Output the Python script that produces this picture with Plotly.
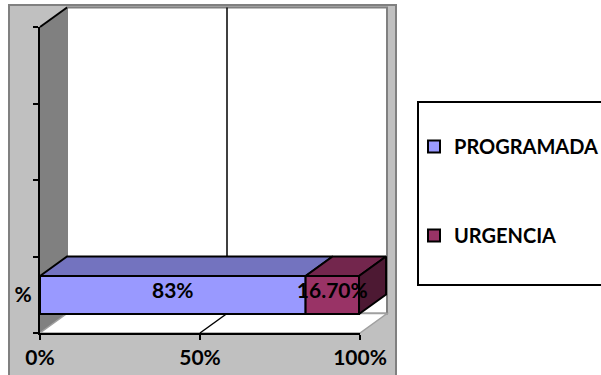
import plotly.graph_objects as go

# ---- data ----
categories = ["%"]
series = ["PROGRAMADA", "URGENCIA"]
values = [83, 16.7]
value_labels = ["83%", "16.70%"]
x_ticks = [0, 50, 100]
x_ticklabels = ["0%", "50%", "100%"]
front_colors = ["#9999FF", "#993366"]
top_colors = ["#7373BF", "#73264D"]
side_colors = ["#5C5C99", "#4D1933"]

# ---- geometry (pixels) ----
W, H = 601, 375
X0PX, X100PX = 40, 360
PXU = (X100PX - X0PX) / 100.0          # px per percent unit
DX = 27 / PXU                           # depth offset in x units
DY = 19.5                               # depth offset in y (px) units
FRONT_TOP, FRONT_BOT = 27, 333
BAR_C, BAR_W = 295, 38
BAR_T, BAR_B = BAR_C - BAR_W / 2, BAR_C + BAR_W / 2
FONT = "Lato"
FS = 21

fig = go.Figure()

bases = []
acc = 0
for v in values:
    bases.append(acc)
    acc += v
total = acc

# front faces (bars)
for i, (name, v, b) in enumerate(zip(series, values, bases)):
    fig.add_trace(go.Bar(
        orientation="h", y=[BAR_C], x=[v], base=[b], width=BAR_W,
        name=name, legendgroup=name,
        marker=dict(color=front_colors[i], line=dict(color="black", width=2)),
        hoverinfo="skip",
    ))

# top faces
for i, (v, b) in enumerate(zip(values, bases)):
    fig.add_trace(go.Scatter(
        x=[b, b + v, b + v + DX, b + DX, b],
        y=[BAR_T, BAR_T, BAR_T - DY, BAR_T - DY, BAR_T],
        fill="toself", fillcolor=top_colors[i], mode="lines",
        line=dict(color="black", width=2), showlegend=False, hoverinfo="skip",
    ))

# side face of the last segment
fig.add_trace(go.Scatter(
    x=[total, total + DX, total + DX, total, total],
    y=[BAR_T, BAR_T - DY, BAR_B - DY, BAR_B, BAR_T],
    fill="toself", fillcolor=side_colors[-1], mode="lines",
    line=dict(color="black", width=2), showlegend=False, hoverinfo="skip",
))

# value labels
fig.add_trace(go.Scatter(
    x=[b + v / 2 for v, b in zip(values, bases)], y=[BAR_C - 2] * len(values),
    mode="text", text=value_labels,
    textfont=dict(family=FONT, size=FS, color="black", weight="bold"),
    showlegend=False, hoverinfo="skip",
))

# dummy trace for the visible axes
fig.add_trace(go.Scatter(x=[0], y=[0], xaxis="x2", yaxis="y2", mode="markers",
                         marker=dict(opacity=0), showlegend=False, hoverinfo="skip"))

shapes = [
    # chart area
    dict(type="rect", xref="paper", yref="paper", x0=9 / W, x1=396 / W, y0=-0.02, y1=(H - 5) / H,
         fillcolor="#C0C0C0", line=dict(color="#808080", width=2), layer="below"),
    # legend box
    dict(type="rect", xref="paper", yref="paper", x0=418 / W, x1=1.05, y0=(H - 285) / H, y1=(H - 102) / H,
         fillcolor="white", line=dict(color="black", width=2), layer="below"),
    # back wall
    dict(type="rect", xref="x", yref="y", x0=DX, x1=100 + DX, y0=FRONT_TOP - DY, y1=FRONT_BOT - DY,
         fillcolor="white", line=dict(color="#808080", width=2), layer="below"),
    # left wall
    dict(type="path", xref="x", yref="y",
         path=f"M 0,{FRONT_TOP} L {DX},{FRONT_TOP - DY} L {DX},{FRONT_BOT - DY} L 0,{FRONT_BOT} Z",
         fillcolor="#808080", line=dict(width=0), layer="below"),
    dict(type="line", xref="x", yref="y", x0=0, y0=FRONT_TOP, x1=DX, y1=FRONT_TOP - DY,
         line=dict(color="black", width=2), layer="below"),
    # floor
    dict(type="path", xref="x", yref="y",
         path=f"M 0,{FRONT_BOT} L 100,{FRONT_BOT} L {100 + DX},{FRONT_BOT - DY} L {DX},{FRONT_BOT - DY} Z",
         fillcolor="white", line=dict(color="#A0A0A0", width=1.5), layer="below"),
    # 50% gridline on back wall and floor
    dict(type="line", xref="x", yref="y", x0=50 + DX, y0=FRONT_TOP - DY, x1=50 + DX, y1=FRONT_BOT - DY,
         line=dict(color="black", width=1.5), layer="below"),
    dict(type="line", xref="x", yref="y", x0=50, y0=FRONT_BOT, x1=50 + DX, y1=FRONT_BOT - DY,
         line=dict(color="black", width=1.5), layer="below"),
]

fig.update_layout(
    width=W, height=H, margin=dict(l=0, r=0, t=0, b=0, autoexpand=False),
    paper_bgcolor="white", plot_bgcolor="rgba(0,0,0,0)",
    barmode="overlay", shapes=shapes,
    xaxis=dict(domain=[0, 1], range=[-X0PX / PXU, (W - X0PX) / PXU], visible=False,
               fixedrange=True, automargin=False),
    yaxis=dict(domain=[0, 1], range=[H, 0], visible=False, fixedrange=True, automargin=False),
    xaxis2=dict(domain=[X0PX / W, X100PX / W], range=[0, 100], anchor="y2", automargin=False,
                tickvals=x_ticks, ticktext=x_ticklabels, ticks="outside", ticklen=5, tickwidth=2,
                tickcolor="black", showline=True, linecolor="black", linewidth=2,
                showgrid=False, zeroline=False, fixedrange=True,
                tickfont=dict(family=FONT, size=FS, color="black", weight="bold")),
    yaxis2=dict(domain=[(H - FRONT_BOT) / H, (H - FRONT_TOP) / H], range=[0, 4], anchor="x2",
                automargin=False,
                tickvals=[0.5], ticktext=categories, ticks="", showline=True, linecolor="black",
                linewidth=2, showgrid=False, zeroline=False, fixedrange=True, ticklabelstandoff=2,
                minor=dict(tickvals=[0, 1, 2, 3, 4], ticks="outside", ticklen=5, tickwidth=2,
                           tickcolor="black", showgrid=False),
                tickfont=dict(family=FONT, size=FS, color="black", weight="bold")),
    legend=dict(xref="container", yref="container", x=414 / W, xanchor="left",
                y=(H - 127) / H, yanchor="top",
                bgcolor="rgba(0,0,0,0)", traceorder="grouped", tracegroupgap=60,
                font=dict(family=FONT, size=20, color="black", weight="bold")),
    showlegend=True,
)

fig.write_html("out.html")
